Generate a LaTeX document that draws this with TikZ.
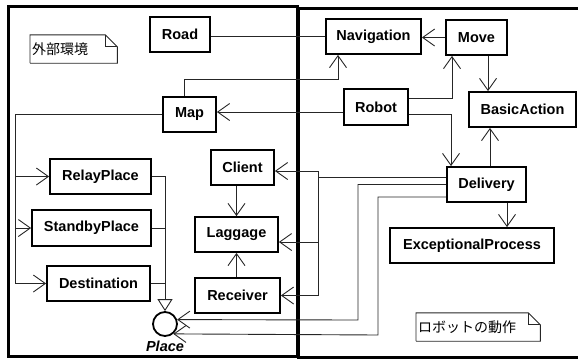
\documentclass[tikz,border=0pt]{standalone}
\usepackage{fontspec}
\setmainfont{Liberation Sans}
\newfontfamily\jpfont{Noto Sans CJK JP}
\usetikzlibrary{arrows.meta,positioning,calc}

\begin{document}
\begin{tikzpicture}[x=1pt,y=-1pt,
    cls/.style={draw,fill=white,line width=1.8pt,inner sep=0pt,minimum height=35pt,font=\fontsize{14.5}{16}\selectfont\bfseries},
    link/.style={line width=0.9pt,draw=black!85},
    assoc/.style={link,-{Straight Barb[length=12pt,width=17pt]}},
    realize/.style={link,-{Triangle[open,length=12pt,width=15pt]}},
    notetext/.style={inner xsep=2pt,inner ysep=0pt,minimum height=28pt,anchor=west,align=left,font=\fontsize{14}{16}\selectfont\jpfont},
    frame/.style={line width=3pt}]
    \useasboundingbox (0,0) rectangle (578,360);

    % 外部環境 / ロボットの動作 の枠
    \draw[frame] (8.5,6.5) rectangle (297,356.5);
    \draw[frame] (581,8) -- (298.5,8) -- (298.5,357) -- (581,357);

    % クラス
    \node[cls,minimum width=60pt] (Road) at (180,34.5) {Road};
    \node[cls,minimum width=95pt] (Navigation) at (373.5,36.5) {Navigation};
    \node[cls,minimum width=61pt] (Move) at (476.5,37.5) {Move};
    \node[cls,minimum width=53pt] (Map) at (189.5,114.5) {Map};
    \node[cls,minimum width=64pt,minimum height=36pt] (Robot) at (376,107) {Robot};
    \node[cls,minimum width=107pt] (BasicAction) at (522.5,109.5) {BasicAction};
    \node[cls,minimum width=63pt] (Client) at (242.5,167.5) {Client};
    \node[cls,minimum width=101pt] (RelayPlace) at (100.5,176.5) {RelayPlace};
    \node[cls,minimum width=79pt] (Delivery) at (486.5,184.5) {Delivery};
    \node[cls,minimum width=119pt,minimum height=36pt] (StandbyPlace) at (91.5,228) {StandbyPlace};
    \node[cls,minimum width=83pt] (Laggage) at (236.5,234.5) {Laggage};
    \node[cls,minimum width=164pt] (ExceptionalProcess) at (472,245.5) {ExceptionalProcess};
    \node[cls,minimum width=103pt] (Destination) at (98.5,283.5) {Destination};
    \node[cls,minimum width=85pt] (Receiver) at (237.5,295.5) {Receiver};

    % インタフェース Place
    \node[circle,draw,fill=white,line width=1.8pt,minimum size=24pt,inner sep=0pt] (Place) at (165,324) {};
    \node[font=\fontsize{14.5}{16}\selectfont\bfseries\itshape,inner sep=0pt] (placename) at (165,346) {Place};

    % ノート
    \node[notetext,text width=83pt] (envnote) at (30,49) {外部環境};
    \node[notetext,text width=120pt] (robnote) at (416,327) {ロボットの動作};
    \foreach \n in {envnote,robnote} {
      \draw[link] (\n.south west) |- ([xshift=-12pt]\n.north east) -- ([yshift=-12pt]\n.north east) |- (\n.south west);
      \draw[link] ([xshift=-12pt]\n.north east) |- ([yshift=-12pt]\n.north east);
    }

    % 折れ点
    \coordinate (lbus) at (15,116);
    \coordinate (dbus) at (318,177);
    \coordinate (p1) at (358,320);
    \coordinate (p2) at (378,335);

    % 関連
    \draw[link] (Road.east |- Navigation.west) -- (Navigation.west);
    \draw[assoc] (Move.west) -- (Move.west -| Navigation.east);
    \draw[assoc] ([xshift=-5.5pt]Map.north) |- ([xshift=-35.5pt,yshift=-25pt]Navigation.south) -- ([xshift=-35.5pt]Navigation.south);
    \draw[assoc] ([yshift=-5pt]Robot.west) -- ([yshift=-5pt]Robot.west -| Map.east);
    \draw[assoc] ([yshift=9pt]Robot.east) -| ([xshift=-24.5pt]Move.south);
    \draw[assoc] ([yshift=-7pt]Robot.east) -| ([xshift=-35.5pt]Delivery.north);
    \draw[assoc] ([xshift=11.5pt]Move.south) -- ([xshift=11.5pt]Move.south |- BasicAction.north);
    \draw[assoc] ([xshift=3.5pt]Delivery.north) -- ([xshift=3.5pt]Delivery.north |- BasicAction.south);
    \draw[assoc] ([xshift=20.5pt]Delivery.south) -- ([xshift=20.5pt]Delivery.south |- ExceptionalProcess.north);

    % Map から各 Place へ
    \draw[link] (Map.west) -| (lbus |- Destination.west);
    \foreach \t in {RelayPlace,StandbyPlace,Destination}
      \draw[assoc] (lbus |- \t.west) -- (\t.west);

    % Delivery から左側へ
    \draw[link] ([yshift=7.5pt]Delivery.west) -- (dbus);
    \draw[assoc] (dbus) |- ([yshift=-3.5pt]Client.east);
    \draw[assoc] (dbus) |- ([yshift=-7.5pt]Laggage.east);
    \draw[assoc] (dbus) |- (Receiver.east);
    \draw[assoc] (Delivery.west) -| (p1) -- (Place.20);
    \draw[assoc] ([yshift=-12.5pt]Delivery.west) -| (p2) -- (Place.-50);

    \draw[assoc] (Client.south -| Laggage.north) -- (Laggage.north);
    \draw[assoc] (Receiver.north -| Laggage.south) -- (Laggage.south);

    % Place の実現
    \draw[realize] (RelayPlace.east) -| (Place.north);
    \draw[link] (StandbyPlace.east) -- (StandbyPlace.east -| Place.north);
    \draw[link] (Destination.east) -- (Destination.east -| Place.north);
\end{tikzpicture}
\end{document}
